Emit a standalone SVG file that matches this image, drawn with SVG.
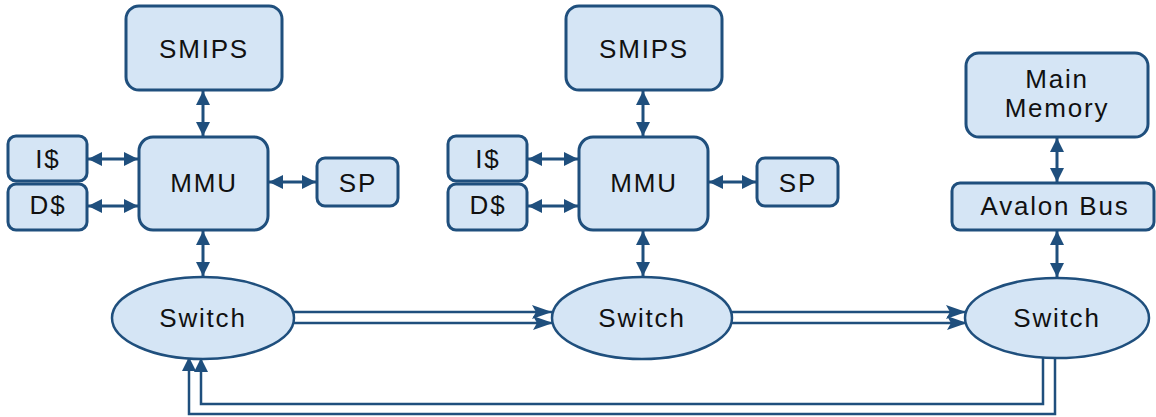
<svg xmlns="http://www.w3.org/2000/svg" width="1156" height="417" viewBox="0 0 1156 417">
<style>
.box{fill:#d5e5f5;stroke:#1f4f7d;stroke-width:3}
.ell{fill:#d5e5f5;stroke:#1f4f7d;stroke-width:2.5}
.t{font-family:"Liberation Sans",Arial,sans-serif;font-size:26px;fill:#111;text-anchor:middle;letter-spacing:1.8px}
.c{fill:none;stroke:#1f4f7d;stroke-width:3}
.c2{fill:none;stroke:#1f4f7d;stroke-width:2.5}
</style>
<defs>
<marker id="ah" markerUnits="userSpaceOnUse" markerWidth="16" markerHeight="14" refX="14" refY="7" orient="auto-start-reverse">
<path d="M0,0 L14,7 L0,14 Z" fill="#1f4f7d"/>
</marker>
<marker id="ah2" markerUnits="userSpaceOnUse" markerWidth="20" markerHeight="14" refX="20" refY="7" orient="auto">
<path d="M0,0 L20,7 L0,14 L4,7 Z" fill="#1f4f7d"/>
</marker>
</defs>
<g id="connectors">
<line class="c" x1="203" y1="91" x2="203" y2="136" marker-start="url(#ah)" marker-end="url(#ah)"/>
<line class="c" x1="88" y1="159" x2="138" y2="159" marker-start="url(#ah)" marker-end="url(#ah)"/>
<line class="c" x1="88" y1="206" x2="138" y2="206" marker-start="url(#ah)" marker-end="url(#ah)"/>
<line class="c" x1="269" y1="182" x2="316" y2="182" marker-start="url(#ah)" marker-end="url(#ah)"/>
<line class="c" x1="203" y1="231" x2="203" y2="276" marker-start="url(#ah)" marker-end="url(#ah)"/>
<line class="c" x1="643" y1="91" x2="643" y2="136" marker-start="url(#ah)" marker-end="url(#ah)"/>
<line class="c" x1="528" y1="159" x2="578" y2="159" marker-start="url(#ah)" marker-end="url(#ah)"/>
<line class="c" x1="528" y1="206" x2="578" y2="206" marker-start="url(#ah)" marker-end="url(#ah)"/>
<line class="c" x1="709" y1="182" x2="756" y2="182" marker-start="url(#ah)" marker-end="url(#ah)"/>
<line class="c" x1="643" y1="231" x2="643" y2="276" marker-start="url(#ah)" marker-end="url(#ah)"/>
<line class="c" x1="1057" y1="138" x2="1057" y2="182" marker-start="url(#ah)" marker-end="url(#ah)"/>
<line class="c" x1="1057" y1="231" x2="1057" y2="277" marker-start="url(#ah)" marker-end="url(#ah)"/>
<line class="c2" x1="294" y1="312" x2="552" y2="312" marker-end="url(#ah2)"/>
<line class="c2" x1="294" y1="323" x2="553" y2="323" marker-end="url(#ah2)"/>
<line class="c2" x1="732" y1="312" x2="966" y2="312" marker-end="url(#ah2)"/>
<line class="c2" x1="732" y1="323" x2="967" y2="323" marker-end="url(#ah2)"/>
<polyline class="c2" points="1043,357 1043,404 201,404 201,358" marker-end="url(#ah)"/>
<polyline class="c2" points="1055,357 1055,414 189,414 189,357" marker-end="url(#ah)"/>
</g>
<g id="smips1"><rect class="box" x="126" y="6" width="156" height="84" rx="13"/><text class="t" x="204" y="58">SMIPS</text></g>
<g id="mmu1"><rect class="box" x="139" y="137" width="129" height="93" rx="14"/><text class="t" x="204" y="192">MMU</text></g>
<g id="icache1"><rect class="box" x="8" y="136" width="79" height="45" rx="8"/><text class="t" x="48" y="168">I$</text></g>
<g id="dcache1"><rect class="box" x="8" y="184" width="79" height="46" rx="8"/><text class="t" x="48" y="214">D$</text></g>
<g id="sp1"><rect class="box" x="317" y="158" width="81" height="48" rx="8"/><text class="t" x="358" y="192">SP</text></g>
<g id="switch1"><ellipse class="ell" cx="203" cy="318" rx="91" ry="41"/><text class="t" x="203" y="327">Switch</text></g>
<g id="smips2"><rect class="box" x="566" y="6" width="156" height="84" rx="13"/><text class="t" x="644" y="58">SMIPS</text></g>
<g id="mmu2"><rect class="box" x="579" y="137" width="129" height="93" rx="14"/><text class="t" x="644" y="192">MMU</text></g>
<g id="icache2"><rect class="box" x="448" y="136" width="79" height="45" rx="8"/><text class="t" x="488" y="168">I$</text></g>
<g id="dcache2"><rect class="box" x="448" y="184" width="79" height="46" rx="8"/><text class="t" x="488" y="214">D$</text></g>
<g id="sp2"><rect class="box" x="757" y="158" width="81" height="48" rx="8"/><text class="t" x="798" y="192">SP</text></g>
<g id="switch2"><ellipse class="ell" cx="642" cy="318" rx="90" ry="41"/><text class="t" x="642" y="327">Switch</text></g>
<g id="mainmem"><rect class="box" x="966" y="53" width="182" height="84" rx="13"/><text class="t" x="1057" y="88">Main</text><text class="t" x="1057" y="117">Memory</text></g>
<g id="avalon"><rect class="box" x="952" y="183" width="202" height="47" rx="8"/><text class="t" x="1055" y="215">Avalon Bus</text></g>
<g id="switch3"><ellipse class="ell" cx="1057" cy="318" rx="92" ry="40"/><text class="t" x="1057" y="327">Switch</text></g>
</svg>
